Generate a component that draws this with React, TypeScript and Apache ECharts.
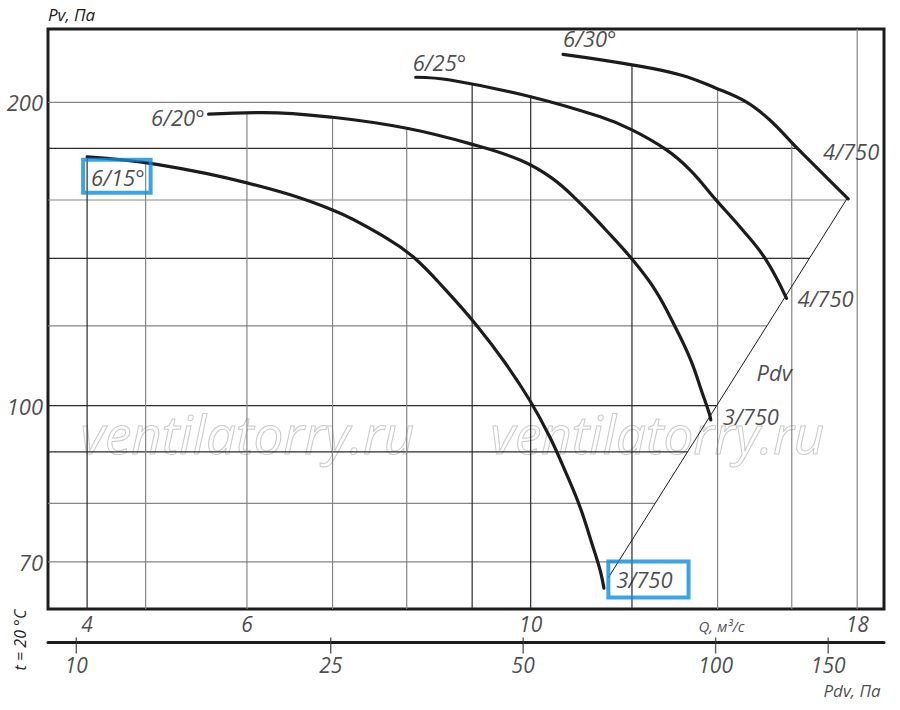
import { useEffect, useRef } from "react";
import * as echarts from "echarts";

// fan curves, Q (м³/с) against Pv (Па)
const curve615Q = [4.5, 5.1, 6.0, 7.0, 7.73, 8.12, 8.58, 9.08, 9.54, 9.98, 10.35, 10.65, 10.93, 11.16, 11.33, 11.41];
const curve615Pv = [176.6, 173.6, 166.4, 156.4, 146.4, 140, 130.3, 120, 110.5, 101.3, 93.1, 85.9, 79.3, 73.1, 68.7, 65.9];
const curve620Q = [5.6, 6.18, 7.0, 8.0, 8.99, 9.81, 10.39, 10.93, 11.45, 12.0, 12.51, 12.96, 13.34, 13.61, 13.79, 13.83];
const curve620Pv = [194.7, 195.4, 193.3, 188.5, 181.8, 175.3, 168.2, 158.9, 149.4, 139.8, 130.3, 120, 111.0, 103.2, 98.3, 96.8];
const curve625Q = [8.13, 8.65, 10.0, 11.32, 12.0, 12.77, 13.32, 13.98, 14.6, 15.25, 15.85];
const curve625Pv = [211.8, 210.5, 202.6, 193.6, 187.8, 179.4, 171.4, 159.7, 150.1, 140, 127.8];
const curve630Q = [10.6, 12.0, 13.1, 13.96, 14.75, 15.38, 16.09, 17.71];
const curve630Pv = [223.2, 217.9, 212.9, 206.6, 200.1, 192.1, 181.1, 160.4];

// dynamic pressure line Pdv
const pdvLineQ = [11.5, 17.7];
const pdvLinePv = [67.5, 161];

// grid and ticks
const qGrid = [4.5, 5, 6, 7, 8, 9, 10, 12, 14, 16, 18];
const pvGrid = [200, 180, 160, 140, 120, 100, 90, 80, 70];
const qTickValues = [4.5, 6, 10, 18];
const qTickLabels = ["4", "6", "10", "18"];
const pvTickValues = [200, 100, 70];
const pdvTickValues = [10, 25, 50, 100, 150];

const Q_MIN = 4.194;
const Q_MAX = 18.89;
const PV_MIN = 62.84;
const PV_MAX = 236.5;
const PDV_MIN = 9.03;
const PDV_MAX = 183.4;

const darkH = [180, 140, 100, 90];
const darkV = [4.5, 9, 10, 12];

const INK = "#1c1c1c";
const BLUE = "#0a8de0";
const FONT = '"Open Sans", "DejaVu Sans", sans-serif';

const lg = Math.log10;
const curves = [
  [curve615Q, curve615Pv],
  [curve620Q, curve620Pv],
  [curve625Q, curve625Pv],
  [curve630Q, curve630Pv],
];

function pvAt(qs: number[], ps: number[], q: number) {
  for (let i = 0; i < qs.length - 1; i++) {
    if (q >= qs[i] && q <= qs[i + 1]) {
      const t = (lg(q) - lg(qs[i])) / (lg(qs[i + 1]) - lg(qs[i]));
      return 10 ** (lg(ps[i]) + t * (lg(ps[i + 1]) - lg(ps[i])));
    }
  }
  return null;
}

function qAt(qs: number[], ps: number[], pv: number) {
  for (let i = 0; i < qs.length - 1; i++) {
    if ((ps[i] - pv) * (ps[i + 1] - pv) <= 0 && ps[i] !== ps[i + 1]) {
      const t = (lg(pv) - lg(ps[i])) / (lg(ps[i + 1]) - lg(ps[i]));
      return 10 ** (lg(qs[i]) + t * (lg(qs[i + 1]) - lg(qs[i])));
    }
  }
  return null;
}

// vertical grid lines stop at the highest curve, horizontal ones at the rightmost curve
function gridTop(q: number) {
  const vals = curves.map(([qs, ps]) => pvAt(qs, ps, q)).filter((v) => v !== null) as number[];
  return vals.length ? Math.max(...vals) : PV_MAX;
}
function gridRight(pv: number) {
  const vals = [...curves, [pdvLineQ, pdvLinePv]]
    .map(([qs, ps]) => qAt(qs, ps, pv))
    .filter((v) => v !== null) as number[];
  return vals.length ? Math.max(...vals) : Q_MIN;
}

const zip = (a: number[], b: number[]) => a.map((v, i) => [v, b[i]]);

const textBase = {
  color: INK,
  fontFamily: FONT,
  fontStyle: "italic",
  fontSize: 22,
};

function labelSeries(data: any[], axis = 0) {
  return {
    type: "scatter",
    xAxisIndex: axis,
    yAxisIndex: axis,
    data,
    symbolSize: 0,
    itemStyle: { color: "transparent" },
    silent: true,
    clip: false,
    z: 6,
    label: { show: true, ...textBase },
  };
}

function App() {
  const chartRef = useRef<HTMLDivElement>(null);

  useEffect(() => {
    const chart = echarts.init(chartRef.current, null, { renderer: "svg" });

    const hLines = pvGrid.map((pv) => ({
      type: "line",
      data: [
        [Q_MIN, pv],
        [gridRight(pv), pv],
      ],
      symbol: "none",
      silent: true,
      z: 1,
      lineStyle: { color: darkH.includes(pv) ? "#2a2a2a" : "#858585", width: 1.2 },
    }));

    const vLines = qGrid.map((q) => ({
      type: "line",
      data: [
        [q, PV_MIN],
        [q, gridTop(q)],
      ],
      symbol: "none",
      silent: true,
      z: 1,
      lineStyle: { color: darkV.includes(q) ? "#2a2a2a" : "#858585", width: 1.2 },
    }));

    const curveSeries = curves.map(([qs, ps]) => ({
      type: "line",
      data: zip(qs, ps),
      symbol: "none",
      smooth: 0.4,
      silent: true,
      z: 4,
      lineStyle: { color: INK, width: 3.2, cap: "round", join: "round" },
    }));

    const annotations = [
      {
        value: [curve615Q[0], curve615Pv[0]],
        label: {
          formatter: "6/15°",
          position: [-4, 3],
          align: "left",
          verticalAlign: "top",
          borderColor: BLUE,
          borderWidth: 4,
          padding: [6, 6, 5, 8],
        },
      },
      { value: [curve620Q[0], curve620Pv[0]], label: { formatter: "6/20°", position: [-4, 3], align: "right", verticalAlign: "middle" } },
      { value: [curve625Q[0], curve625Pv[0]], label: { formatter: "6/25°", position: [-3, -15], align: "left", verticalAlign: "middle" } },
      { value: [curve630Q[0], curve630Pv[0]], label: { formatter: "6/30°", position: [0, -16], align: "left", verticalAlign: "middle" } },
      {
        value: [curve630Q[curve630Q.length - 1], curve630Pv[curve630Pv.length - 1]],
        label: { formatter: "4/750", position: [3, -48], align: "center", verticalAlign: "middle" },
      },
      {
        value: [curve625Q[curve625Q.length - 1], curve625Pv[curve625Pv.length - 1]],
        label: { formatter: "4/750", position: [11, 0], align: "left", verticalAlign: "middle" },
      },
      {
        value: [curve620Q[curve620Q.length - 1], curve620Pv[curve620Pv.length - 1]],
        label: { formatter: "3/750", position: [12, -4], align: "left", verticalAlign: "middle" },
      },
      {
        value: [curve615Q[curve615Q.length - 1], curve615Pv[curve615Pv.length - 1]],
        label: {
          formatter: "3/750",
          position: [4.4, -26.7],
          align: "left",
          verticalAlign: "top",
          borderColor: BLUE,
          borderWidth: 4,
          padding: [7, 16, 7, 8],
        },
      },
      { value: [15.5, 108], label: { formatter: "Pdv", position: [0, 0], align: "center", verticalAlign: "middle" } },
    ];

    const pvLabels = pvTickValues.map((v) => ({
      value: [Q_MIN, v],
      label: { formatter: String(v), position: "left", distance: 5 },
    }));

    const qLabels = [
      ...qTickValues.map((q, i) => ({
        value: [q, PV_MIN],
        label: { formatter: qTickLabels[i], position: "bottom", distance: 4, fontSize: 21 },
      })),
      {
        value: [14, PV_MIN],
        label: { formatter: "Q, м³/с", position: "bottom", distance: 9, offset: [4, 0], fontSize: 15 },
      },
    ];

    const pdvLabels = [
      ...pdvTickValues.map((p) => ({
        value: [p, 0],
        label: { formatter: String(p), position: "bottom", distance: 12, fontSize: 21 },
      })),
      {
        value: [PDV_MAX, 0],
        label: { formatter: "Pdv, Па", position: "bottom", distance: 40, offset: [-32, 0], fontSize: 17 },
      },
    ];

    const watermark = (left: number) => ({
      type: "text",
      left,
      top: 406,
      z: 0,
      style: {
        text: "ventilatorry.ru",
        font: `italic 53px ${FONT}`,
        fill: "rgba(255,255,255,0)",
        stroke: "#c9c9c9",
        lineWidth: 1,
      },
    });

    const option = {
      animation: false,
      backgroundColor: "#ffffff",
      grid: [
        { left: 48, right: 16, top: 29, height: 580, show: true, borderColor: INK, borderWidth: 3, backgroundColor: "transparent" },
        { left: 48, right: 16, top: 641, height: 1 },
      ],
      xAxis: [
        {
          type: "log",
          gridIndex: 0,
          min: Q_MIN,
          max: Q_MAX,
          axisLine: { show: false },
          axisTick: { show: false },
          axisLabel: { show: false },
          splitLine: { show: false },
        },
        {
          type: "log",
          gridIndex: 1,
          min: PDV_MIN,
          max: PDV_MAX,
          axisLine: { show: true, onZero: false, lineStyle: { color: INK, width: 3 } },
          axisTick: { show: false },
          axisLabel: { show: false },
          splitLine: { show: false },
        },
      ],
      yAxis: [
        {
          type: "log",
          gridIndex: 0,
          min: PV_MIN,
          max: PV_MAX,
          name: "Pv, Па",
          nameLocation: "end",
          nameGap: 6,
          nameTextStyle: { ...textBase, fontSize: 17, align: "left", verticalAlign: "bottom" },
          axisLine: { show: false },
          axisTick: { show: false },
          axisLabel: { show: false },
          splitLine: { show: false },
        },
        { type: "value", gridIndex: 1, min: 0, max: 1, show: false },
      ],
      graphic: [
        {
          type: "text",
          x: 20,
          y: 640,
          rotation: Math.PI / 2,
          style: { text: "t = 20 °C", font: `italic 16px ${FONT}`, fill: INK, align: "center", verticalAlign: "middle" },
        },
        watermark(80),
        watermark(490),
      ],
      series: [
        ...hLines,
        ...vLines,
        {
          type: "line",
          data: zip(pdvLineQ, pdvLinePv),
          symbol: "none",
          silent: true,
          z: 3,
          lineStyle: { color: INK, width: 1 },
        },
        ...curveSeries,
        labelSeries(annotations),
        labelSeries(pvLabels),
        labelSeries(qLabels),
        {
          type: "scatter",
          xAxisIndex: 1,
          yAxisIndex: 1,
          data: pdvTickValues.map((p) => [p, 0]),
          symbol: "rect",
          symbolSize: [1.4, 16],
          symbolOffset: [0, 3.5],
          itemStyle: { color: "#333" },
          silent: true,
          clip: false,
        },
        labelSeries(pdvLabels, 1),
      ],
    };

    chart.setOption(option);

    return () => {
      chart.dispose();
    };
  }, []);

  return (
    <div
      ref={chartRef}
      style={{ position: "fixed", left: 0, top: 0, width: 900, height: 710, background: "#fff" }}
    />
  );
}

export default App;
